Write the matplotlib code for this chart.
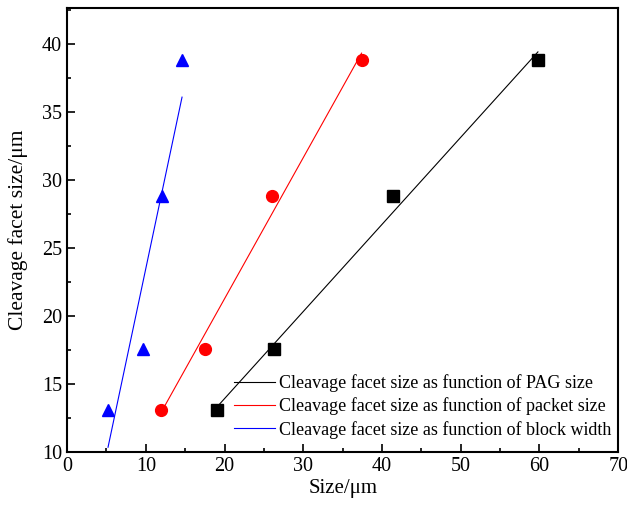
import numpy as np
import matplotlib.pyplot as plt
from matplotlib.ticker import MultipleLocator

plt.rcParams['font.family'] = ['Liberation Serif', 'DejaVu Serif']

facet = [13.1, 17.6, 28.8, 38.8]   # cleavage facet size
pag = [19.1, 26.3, 41.4, 59.8]
packet = [11.9, 17.5, 26.0, 37.4]
block = [5.2, 9.7, 12.1, 14.6]

fig = plt.figure(figsize=(6.27, 5.11), dpi=100)
ax = fig.add_axes([0.107, 0.1155, 0.879, 0.8685])

series = [
    (pag, 'black', 's', 8, 'Cleavage facet size as function of PAG size'),
    (packet, 'red', 'o', 8.5, 'Cleavage facet size as function of packet size'),
    (block, 'blue', '^', 9, 'Cleavage facet size as function of block width'),
]
for xs, c, m, ms, lab in series:
    xs = np.array(xs)
    k, b = np.polyfit(xs, facet, 1)
    ax.plot(xs, facet, ls='none', marker=m, color=c, ms=ms)
    xx = np.array([xs.min(), xs.max()])
    ax.plot(xx, k * xx + b, color=c, lw=0.8, label=lab)

ax.set_xlim(0, 70)
ax.set_ylim(10, 42.6)
ax.xaxis.set_major_locator(MultipleLocator(10))
ax.xaxis.set_minor_locator(MultipleLocator(5))
ax.yaxis.set_major_locator(MultipleLocator(5))
ax.yaxis.set_minor_locator(MultipleLocator(2.5))
ax.tick_params(which='both', direction='in', top=False, right=False, labelsize=14.5)
ax.tick_params(which='major', length=6, width=1.2)
ax.tick_params(which='minor', length=3, width=1.2)
for s in ax.spines.values():
    s.set_linewidth(1.5)

ax.set_xlabel('Size/μm', fontsize=15, labelpad=2)
ax.set_ylabel('Cleavage facet size/μm', fontsize=15.5, labelpad=10)
ax.legend(loc='lower right', bbox_to_anchor=(0.995, 0.022), frameon=False, fontsize=13,
          handlelength=2.25, handletextpad=0.25, labelspacing=0.3,
          borderaxespad=0, borderpad=0.2)

fig.savefig('out.png', dpi=100)
